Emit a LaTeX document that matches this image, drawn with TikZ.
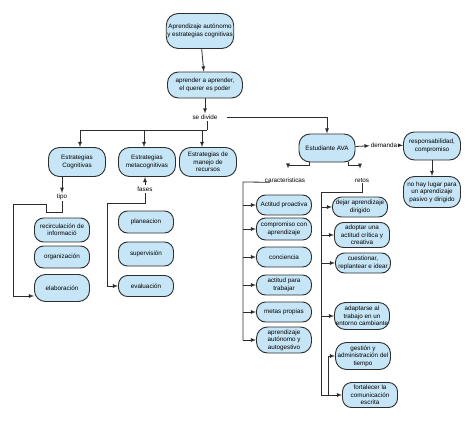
\documentclass[tikz,border=0pt]{standalone}
\usepackage{fontspec}
\setmainfont{Liberation Sans}
\usetikzlibrary{arrows,shapes,calc,positioning}
\definecolor{nodeblue}{RGB}{198,229,246}
\definecolor{edgegray}{RGB}{45,45,45}

\begin{document}
\begin{tikzpicture}[x=1pt,y=-1pt]
\tikzstyle{main}=[rectangle, rounded corners=9pt, draw=edgegray, line width=0.9pt, fill=nodeblue, align=center, inner sep=1pt, minimum width=55pt, minimum height=21pt, font=\fontsize{6.3}{7.4}\selectfont]
\tikzstyle{word}=[inner sep=1pt, font=\fontsize{6.3}{7.4}\selectfont]
\tikzstyle{connect}=[-latex, line width=0.8pt, draw=edgegray]
\tikzstyle{wire}=[line width=0.8pt, draw=edgegray]

\useasboundingbox (0,0) rectangle (474,423);

  % main line
  \node[main, minimum width=66pt, minimum height=35pt, rounded corners=12pt] (apr) at (200,31) {Aprendizaje autónomo\\y estrategias cognitivas};
  \node[main, minimum width=75pt, minimum height=26pt, rounded corners=11pt] (querer) at (205,85) {aprender a aprender,\\el querer es poder};
  \node[word] (divide) at (205,117) {se divide};

  \node[main, minimum width=57pt, minimum height=29pt, rounded corners=11pt] (cog)  at (77,162)  {Estrategias\\Cognitivas};
  \node[main, minimum width=57pt, minimum height=29pt, rounded corners=11pt] (meta) at (147,162) {Estrategias\\metacognitivas};
  \node[main, minimum width=57pt, minimum height=29pt, rounded corners=11pt] (recu) at (208,162) {Estrategias de\\manejo de\\recursos};

  % cognitivas
  \node[word] (tipo) at (62,197) {tipo};
  \node[main, minimum height=24pt] (recirc) at (62,230) {recirculación de\\informació};
  \node[main, minimum height=22pt] (organ)  at (62,257) {organización};
  \node[main, minimum height=27pt, rounded corners=11pt] (elab) at (62,288) {elaboración};

  % metacognitivas
  \node[word] (fases) at (145,189) {fases};
  \node[main, minimum height=22pt] (plan)  at (146,222) {planeacion};
  \node[main, minimum height=24pt] (superv) at (146,254) {supervisión};
  \node[main, minimum height=21pt] (evalu) at (146,286) {evaluación};

  % estudiante
  \node[main, minimum width=56pt, minimum height=28pt, rounded corners=11pt] (est) at (327,148) {Estudiante AVA};
  \node[word] (demanda) at (384,145) {demanda};
  \node[main, minimum width=57pt, minimum height=28pt, rounded corners=11pt] (resp)  at (432,146) {responsabilidad,\\compromiso};
  \node[main, minimum width=57pt, minimum height=31pt, rounded corners=11pt] (nohay) at (432,192) {no hay lugar para\\un aprendizaje\\pasivo y dirigido};

  \node[word] (caract) at (285,180) {caracteristicas};
  \node[word] (retos)  at (362,180) {retos};

  \node[main, minimum height=20pt] (proact) at (284,205) {Actitud proactiva};
  \node[main, minimum height=22pt] (compr)  at (284,229) {compromiso con\\aprendizaje};
  \node[main, minimum height=20pt] (conc)   at (284,257) {conciencia};
  \node[main, minimum height=20pt] (trab)   at (284,285) {actitud para\\trabajar};
  \node[main, minimum height=20pt] (metas)  at (284,312) {metas propias};
  \node[main, minimum height=26pt, rounded corners=11pt] (autog) at (284,340) {aprendizaje\\autónomo y\\autogestivo};

  \node[main, minimum height=20pt] (dejar) at (360,207) {dejar aprendizaje\\dirigido};
  \node[main, minimum height=25pt] (adopt) at (362,235) {adoptar una\\actitud crítica y\\creativa};
  \node[main, minimum height=20pt] (cuest) at (363,263) {cuestionar,\\replantear e idear};
  \node[main, minimum height=27pt, rounded corners=11pt] (adapt) at (362,316) {adaptarse al\\trabajo en un\\entorno cambiante};
  \node[main, minimum height=27pt, rounded corners=11pt] (gest)  at (363,356) {gestión y\\administración del\\tiempo};
  \node[main, minimum height=25pt] (fort)  at (370,395) {fortalecer la\\comunicación\\escrita};

  \coordinate (split) at (207,130);
  \coordinate (cv) at (243,182);
  \coordinate (rv) at (321,192);
  \coordinate (gv) at (328,0);

  % connections
  \draw[connect] (apr) -- (querer);
  \draw[connect] (querer) -- (divide);
  \draw[connect, shorten <=8pt] (divide.east) -| (est);
  \draw[wire] (divide.south -| split) -- (split);
  \draw[connect] (split) -| ([xshift=3pt]cog.north);
  \draw[connect] (split) -| ([xshift=-3pt]meta.north);
  \draw[connect] (split) -| ([xshift=-6pt]recu.north);

  \draw[connect] (cog.south -| tipo) -- (tipo);
  \draw[connect] (tipo.south) -- (62,212) -- (46,212) -- (46,204) -- (13,204) |- ([yshift=-8pt]elab.west);

  \draw[connect] (fases) -- (meta.south -| fases);
  \draw[connect] (fases.south) -- (145,203) -- (107,203) |- (evalu.west);

  \draw[connect] (est) -- (demanda);
  \draw[connect] (demanda) -- (resp);
  \draw[connect] (resp) -- (nohay);

  \draw[connect] ([xshift=-18pt]est.south) -- ++(0,3) -| ([xshift=3pt,yshift=8pt]caract.north);
  \draw[connect] ([xshift=21pt]est.south) -- ++(0,3) -| ([xshift=-2pt,yshift=8pt]retos.north);

  \draw[wire] ([xshift=-15pt]caract.base) -- (cv) -- (cv |- autog);
  \foreach \n in {proact,compr,conc,trab,metas,autog}
    \draw[connect] (cv |- \n) -- (\n);

  \draw[wire] (retos.south) |- (rv) -- (rv |- fort);
  \foreach \n in {dejar,adopt,cuest,adapt,fort}
    \draw[connect] (rv |- \n) -- (\n);
  \draw[connect] (gv |- fort) |- (gest);

\end{tikzpicture}
\end{document}
